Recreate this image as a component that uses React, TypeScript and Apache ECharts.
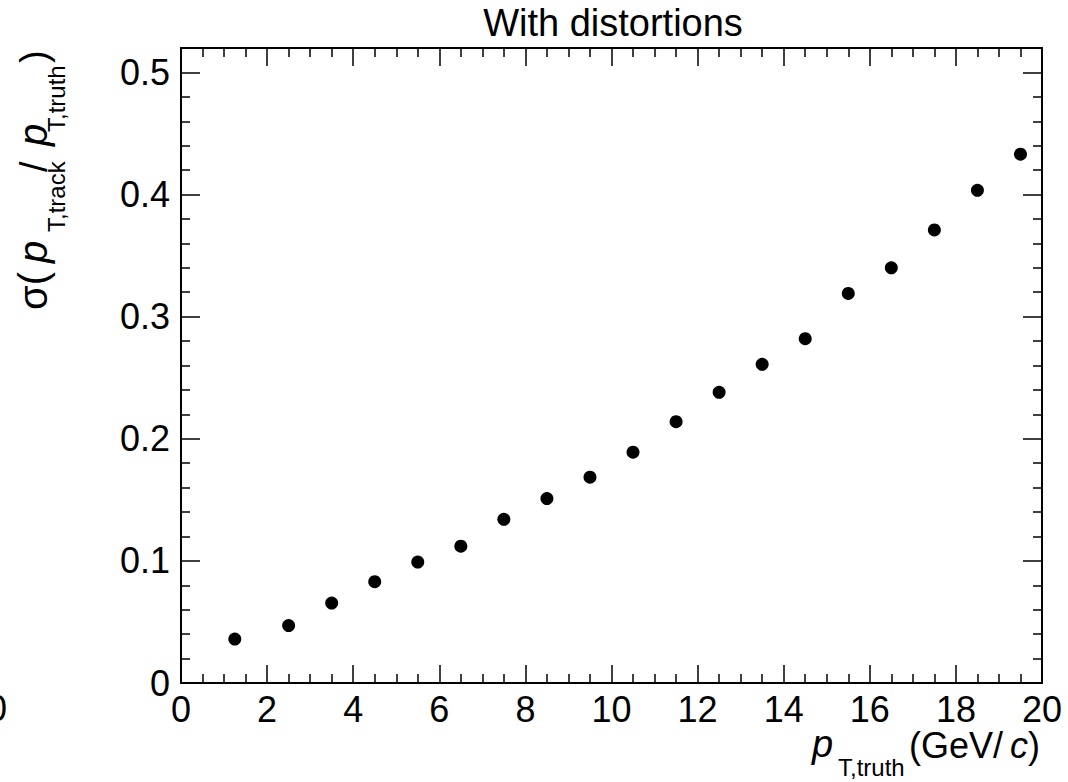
import React, { useEffect, useRef } from "react";
import * as echarts from "echarts";

// ---- data ----
const ptTruth = [1.25, 2.5, 3.5, 4.5, 5.5, 6.5, 7.5, 8.5, 9.5, 10.5, 11.5, 12.5, 13.5, 14.5, 15.5, 16.5, 17.5, 18.5, 19.5];
const sigmaRatio = [0.036, 0.047, 0.0655, 0.083, 0.099, 0.112, 0.134, 0.151, 0.1685, 0.189, 0.214, 0.238, 0.261, 0.282, 0.319, 0.34, 0.371, 0.4035, 0.433];

const titleText = "With distortions";
const xRange = [0, 20];
const xStep = 2;
const yRange = [0, 0.52];
const yStep = 0.1;

const FONT = "Liberation Sans, Arial, Helvetica, sans-serif";

export default function App() {
  const ref = useRef<HTMLDivElement>(null);

  useEffect(() => {
    if (!ref.current) return;
    const chart = echarts.init(ref.current, null, { renderer: "svg" });

    const axisLine = { show: true, onZero: false, lineStyle: { color: "#000", width: 2 } };
    const tick = { show: true, inside: true, length: 18, lineStyle: { color: "#000", width: 1.5 } };
    const minor = (n: number) => ({ show: true, splitNumber: n, length: 9, lineStyle: { color: "#000", width: 1.5 } });
    const label = { color: "#000", fontSize: 36, fontFamily: FONT };

    const mid = (baseline: number, fs: number) => baseline - 0.347 * fs;

    const piece = (t: string, x: number, base: number, fs: number, italic = false) => ({
      type: "text",
      x,
      y: mid(base, fs),
      style: { text: t, fontSize: fs, fontFamily: FONT, fontStyle: italic ? "italic" : "normal", fill: "#000", align: "left", verticalAlign: "middle" },
    });

    chart.setOption({
      animation: false,
      backgroundColor: "#fff",
      grid: { left: 181, right: 26, top: 48, bottom: 99, containLabel: false },
      xAxis: [
        {
          type: "value", min: xRange[0], max: xRange[1], interval: xStep, position: "bottom",
          axisLine, axisTick: tick, minorTick: minor(4), splitLine: { show: false },
          axisLabel: { ...label, margin: 8 },
        },
        {
          type: "value", min: xRange[0], max: xRange[1], interval: xStep, position: "top",
          axisLine, axisTick: tick, minorTick: minor(4), splitLine: { show: false },
          axisLabel: { show: false },
        },
      ],
      yAxis: [
        {
          type: "value", min: yRange[0], max: yRange[1], interval: yStep, position: "left",
          axisLine, axisTick: { ...tick, length: 19 }, minorTick: minor(5), splitLine: { show: false },
          axisLabel: { ...label, margin: 11, showMaxLabel: false },
        },
        {
          type: "value", min: yRange[0], max: yRange[1], interval: yStep, position: "right",
          axisLine, axisTick: { ...tick, length: 19 }, minorTick: minor(5), splitLine: { show: false },
          axisLabel: { show: false },
        },
      ],
      series: [
        {
          type: "scatter",
          xAxisIndex: 0,
          yAxisIndex: 0,
          symbol: "circle",
          symbolSize: 13,
          itemStyle: { color: "#000", opacity: 1 },
          data: ptTruth.map((x, i) => [x, sigmaRatio[i]]),
        },
      ],
      graphic: [
        {
          type: "text",
          x: 613,
          y: mid(36, 38),
          style: { text: titleText, fontSize: 38, fontFamily: FONT, fill: "#000", align: "center", verticalAlign: "middle" },
        },
        // clipped label from neighbouring pad at the far left
        {
          type: "text",
          x: 7,
          y: 708,
          style: { text: "0", fontSize: 36, fontFamily: FONT, fill: "#000", align: "right", verticalAlign: "middle" },
        },
        // x-axis title
        piece("p", 812, 757, 38, true),
        piece("T,truth", 838, 776, 24),
        piece("(GeV/", 909, 758, 36),
        piece("c", 1010, 758, 36, true),
        piece(")", 1028, 758, 36),
        // y-axis title (rotated)
        {
          type: "group",
          x: 47,
          y: 310,
          rotation: Math.PI / 2,
          children: [
            piece("σ(", 0, 0, 40),
            piece("p", 47, 0, 40, true),
            piece("T,track", 78, 18, 24),
            piece("/", 138, 0, 38),
            piece("p", 164, 0, 40, true),
            piece("T,truth", 178, 18, 24),
            piece(")", 247, 0, 38),
          ],
        },
      ],
    });

    return () => chart.dispose();
  }, []);

  return <div ref={ref} style={{ position: "absolute", left: 0, top: 0, width: 1068, height: 782 }} />;
}
